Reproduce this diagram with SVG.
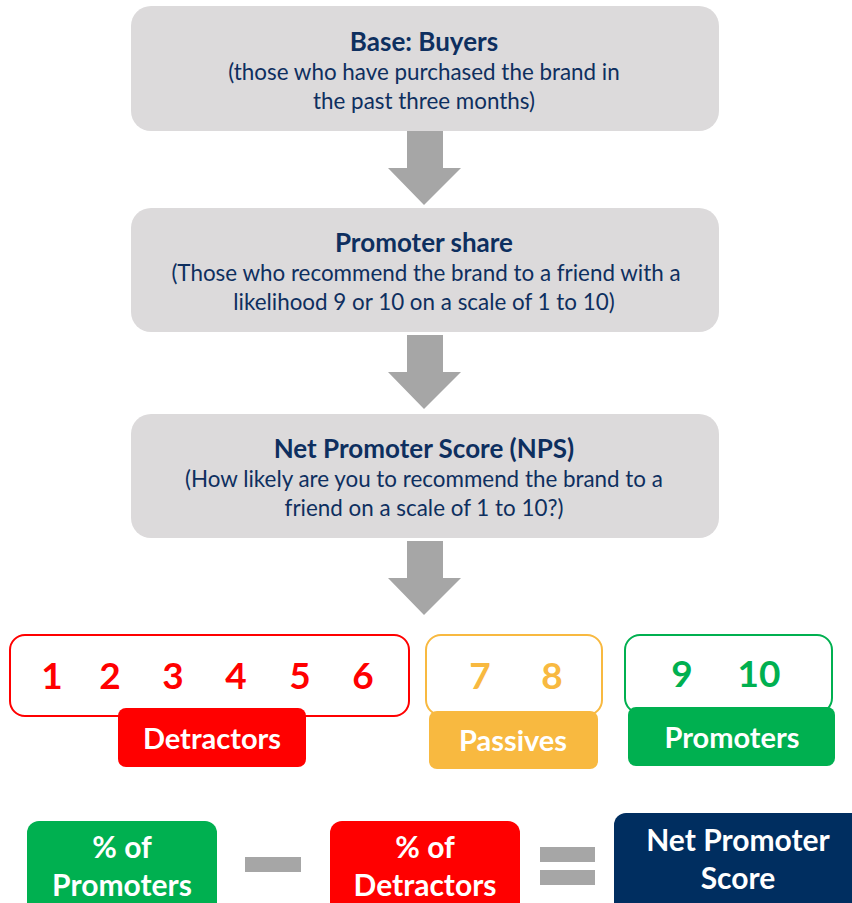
<svg xmlns="http://www.w3.org/2000/svg" width="852" height="903" viewBox="0 0 852 903">
  <style>
    text { font-family: Lato, "Open Sans", "Liberation Sans", sans-serif; text-anchor: middle; }
    .step { fill: #DCDADB; }
    .title { font-size: 26px; font-weight: 700; fill: #0E2F5F; }
    .sub { font-size: 22.4px; fill: #0E2F5F; }
    .arrow { fill: #A6A6A6; }
    .num { font-size: 37px; font-weight: 700; }
    .tag { font-size: 29px; font-weight: 700; fill: #FFFFFF; }
    .big { font-size: 30px; }
    .red { fill: #FF0000; }
    .amber { fill: #F8B940; }
    .green { fill: #00B050; }
    .navy { fill: #002E60; }
  </style>

  <!-- flow steps -->
  <g id="base-buyers">
    <rect class="step" x="131" y="6" width="588" height="125" rx="20"/>
    <text class="title" x="424" y="51">Base: Buyers</text>
    <text class="sub" x="424" y="80">(those who have purchased the brand in</text>
    <text class="sub" x="424" y="109">the past three months)</text>
  </g>
  <g id="promoter-share">
    <rect class="step" x="131" y="208" width="588" height="124" rx="20"/>
    <text class="title" x="424" y="252">Promoter share</text>
    <text class="sub" x="426" y="281">(Those who recommend the brand to a friend with a</text>
    <text class="sub" x="424" y="310">likelihood 9 or 10 on a scale of 1 to 10)</text>
  </g>
  <g id="nps">
    <rect class="step" x="131" y="414" width="588" height="124" rx="20"/>
    <text class="title" x="424" y="458">Net Promoter Score (NPS)</text>
    <text class="sub" x="424" y="487">(How likely are you to recommend the brand to a</text>
    <text class="sub" x="424" y="516">friend on a scale of 1 to 10?)</text>
  </g>

  <!-- down arrows between steps -->
  <g id="connectors">
    <path class="arrow" d="M407 131 H443 V168 H461 L424 205 L388 168 H407 Z"/>
    <path class="arrow" d="M407 335 H443 V372 H461 L424 409 L388 372 H407 Z"/>
    <path class="arrow" d="M407 541 H443 V578 H461 L424 615 L388 578 H407 Z"/>
  </g>

  <!-- score groups -->
  <g id="detractors">
    <rect x="10" y="635" width="399" height="81" rx="15" fill="#FFFFFF" stroke="#FF0000" stroke-width="2"/>
    <g class="num red">
      <text x="52" y="689">1</text>
      <text x="110" y="689">2</text>
      <text x="173" y="689">3</text>
      <text x="236" y="689">4</text>
      <text x="300" y="689">5</text>
      <text x="363" y="689">6</text>
    </g>
    <rect class="red" x="118" y="708" width="188" height="59" rx="8"/>
    <text class="tag" x="212" y="749">Detractors</text>
  </g>
  <g id="passives">
    <rect x="426" y="635" width="176" height="80" rx="15" fill="#FFFFFF" stroke="#F8B940" stroke-width="2"/>
    <g class="num amber">
      <text x="480" y="689">7</text>
      <text x="552" y="689">8</text>
    </g>
    <rect class="amber" x="429" y="711" width="169" height="58" rx="8"/>
    <text class="tag" x="513" y="751">Passives</text>
  </g>
  <g id="promoters">
    <rect x="625" y="635" width="207" height="78" rx="15" fill="#FFFFFF" stroke="#00B050" stroke-width="2"/>
    <g class="num green">
      <text x="682" y="687">9</text>
      <text x="759" y="687">10</text>
    </g>
    <rect class="green" x="628" y="707" width="207" height="59" rx="8"/>
    <text class="tag" x="732" y="748">Promoters</text>
  </g>

  <!-- formula -->
  <g id="pct-promoters">
    <rect class="green" x="27" y="821" width="190" height="100" rx="12"/>
    <text class="tag big" x="122" y="858">% of</text>
    <text class="tag big" x="122" y="896">Promoters</text>
  </g>
  <g id="minus">
    <rect class="arrow" x="245" y="857" width="56" height="15"/>
  </g>
  <g id="pct-detractors">
    <rect class="red" x="330" y="821" width="190" height="100" rx="12"/>
    <text class="tag big" x="425" y="858">% of</text>
    <text class="tag big" x="425" y="896">Detractors</text>
  </g>
  <g id="equals">
    <rect class="arrow" x="540" y="847" width="55" height="15"/>
    <rect class="arrow" x="540" y="870" width="55" height="15"/>
  </g>
  <g id="net-promoter-score">
    <rect class="navy" x="614" y="813" width="250" height="110" rx="12"/>
    <text class="tag big" x="738" y="851">Net Promoter</text>
    <text class="tag big" x="738" y="889">Score</text>
  </g>
</svg>
